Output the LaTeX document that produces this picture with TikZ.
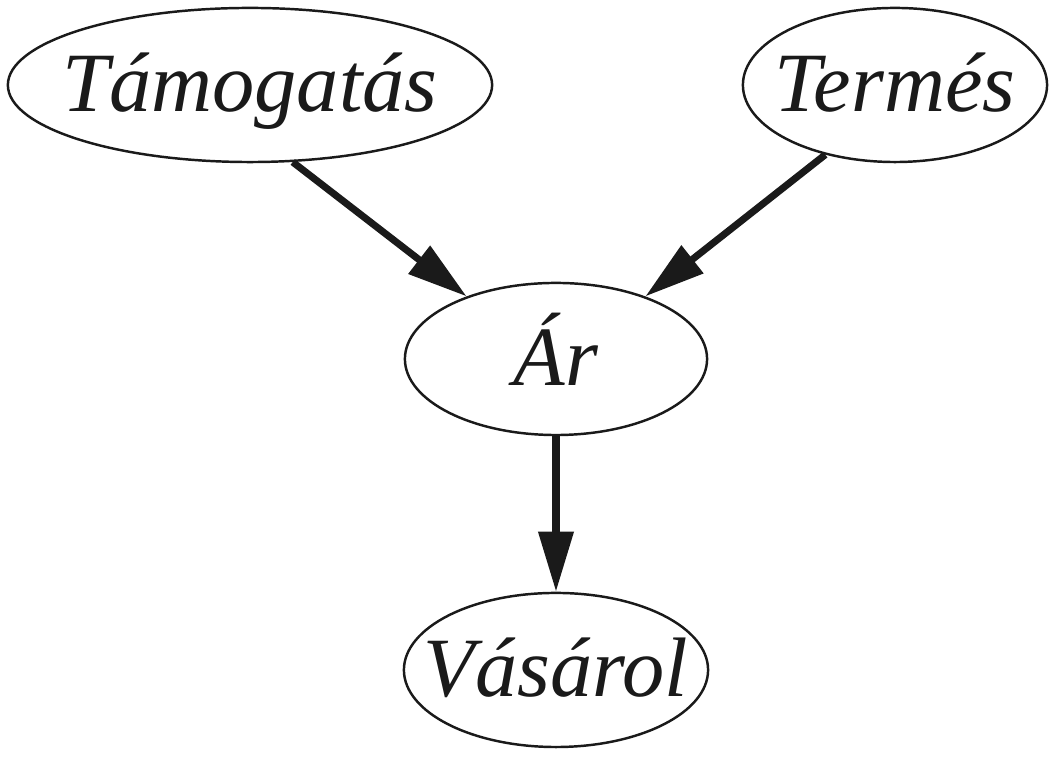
\documentclass[tikz,border=0pt]{standalone}
\usepackage{fontspec}
\setmainfont{Liberation Serif}
\usepackage{tikz}
\usetikzlibrary{arrows.meta,shapes.geometric}
\definecolor{ink}{HTML}{1A1A1A}
\newcommand{\vname}[1]{\makebox[0pt]{#1}}
\tikzset{
  var/.style={draw=ink, ellipse, line width=0.7pt, inner sep=0pt, text height=0.54cm, text depth=0pt, minimum height=1.54cm, font=\fontsize{24}{28}\selectfont\itshape, text=ink},
  arr/.style={-{Triangle[length=6mm, width=3.4mm]}, line width=2pt, draw=ink},
}
\begin{document}
\begin{tikzpicture}[x=0.01cm,y=-0.01cm]
\useasboundingbox (0,0) rectangle (1062,762);
\node[var, minimum width=4.84cm] (tam) at (250,85) {\vname{Támogatás}};
\node[var, minimum width=3.04cm] (term) at (895,85) {\vname{Termés}};
\node[var, minimum width=3.02cm, minimum height=1.52cm] (ar) at (556,359) {\vname{Ár}};
\node[var, minimum width=3.04cm] (vas) at (556,670) {\vname{Vásárol}};
\draw[arr] (tam.-61) -- (ar.145);
\draw[arr] (term.-135) -- (ar.35);
\draw[arr] (ar.south) -- (vas.north);
\end{tikzpicture}
\end{document}
